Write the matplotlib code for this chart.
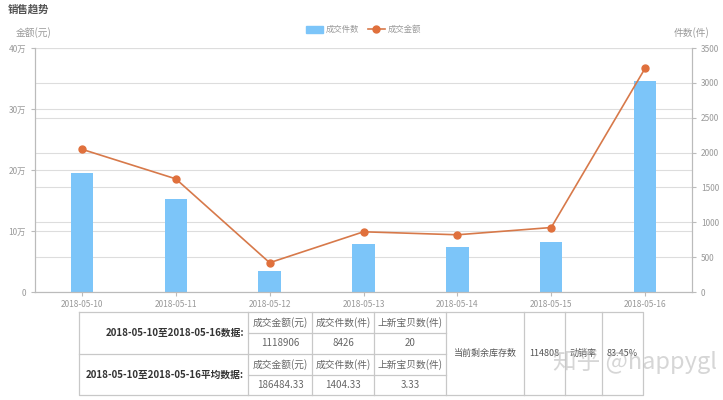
import matplotlib.pyplot as plt
from matplotlib.lines import Line2D
from matplotlib.patches import Patch

plt.rcParams['font.family'] = ['Noto Sans CJK SC', 'DejaVu Sans']

# chart data
dates = ['2018-05-10', '2018-05-11', '2018-05-12', '2018-05-13',
         '2018-05-14', '2018-05-15', '2018-05-16']
counts = [1700, 1328, 308, 694, 643, 722, 3031]            # 成交件数
amounts = [234000, 185500, 48000, 98700, 93800, 105700, 366700]  # 成交金额
left_ticks = [0, 100000, 200000, 300000, 400000]
left_labels = ['0', '10万', '20万', '30万', '40万']
right_ticks = [0, 500, 1000, 1500, 2000, 2500, 3000, 3500]

# table data
head = ['成交金额(元)', '成交件数(件)', '上新宝贝数(件)']
total_label = '2018-05-10至2018-05-16数据:'
total_vals = ['1118906', '8426', '20']
avg_label = '2018-05-10至2018-05-16平均数据:'
avg_vals = ['186484.33', '1404.33', '3.33']
extra = ['当前剩余库存数', '114808', '动销率', '83.45%']

bar_c = '#7cc5f9'
line_c = '#d7794a'
grid_c = '#dddddd'
txt_c = '#999999'

fig = plt.figure(figsize=(7.23, 4), dpi=100)
ax = fig.add_axes([35/723, 1-292/400, (692-35)/723, (292-48)/400])
ax2 = ax.twinx()

x = list(range(len(dates)))
ax2.bar(x, counts, width=0.24, color=bar_c, zorder=2)
ax.plot(x, amounts, color=line_c, lw=1.2, marker='o', ms=5,
        markerfacecolor='#e0703c', markeredgecolor='#e0703c', zorder=5)

ax.set_zorder(ax2.get_zorder() + 1)
ax.patch.set_visible(False)

ax.set_xlim(-0.5, len(dates) - 0.5)
ax.set_ylim(0, 400000)
ax2.set_ylim(0, 3500)
ax.set_yticks(left_ticks)
ax.set_yticklabels(left_labels)
ax2.set_yticks(right_ticks)
ax.set_xticks(x)
ax.set_xticklabels(dates)

# both sets of gridlines go behind the bars
ax2.grid(axis='y', color=grid_c, lw=0.8, zorder=0.5)
for v in left_ticks[1:]:
    ax2.axhline(v * 3500 / 400000, color=grid_c, lw=0.8, zorder=0.5)
ax2.set_axisbelow(True)

for a in (ax, ax2):
    for s in a.spines.values():
        s.set_color('#bbbbbb')
        s.set_linewidth(0.8)
    a.spines['top'].set_visible(False)
    a.tick_params(colors='#bbbbbb', labelcolor=txt_c, labelsize=6, length=3, width=0.8)
ax.tick_params(axis='x', pad=3)

# titles and axis names
fig.text(8/723, 1-10/400, '销售趋势', fontsize=7.5, fontweight='bold', color='#555555', va='center')
fig.text(34/723, 1-33/400, '金额(元)', fontsize=7, color=txt_c, ha='center', va='center')
fig.text(692/723, 1-33/400, '件数(件)', fontsize=7, color=txt_c, ha='center', va='center')

handles = [Patch(color=bar_c, label='成交件数'),
           Line2D([], [], color=line_c, marker='o', ms=5, markerfacecolor='#e0703c',
                  markeredgecolor='#e0703c', lw=1.2, label='成交金额')]
fig.legend(handles=handles, loc='center', bbox_to_anchor=(0.503, 1-29.5/400), ncol=2,
           frameon=False, fontsize=6, labelcolor=txt_c, handlelength=2.0,
           handleheight=0.9, columnspacing=1.0, handletextpad=0.4)

# table below the chart, drawn in pixel coordinates
tb = fig.add_axes([0, 0, 1, 1])
tb.set_xlim(0, 723)
tb.set_ylim(400, 0)
tb.axis('off')
tb.patch.set_visible(False)

line_kw = dict(color='#c8c8c8', lw=0.9)
xl, xc1, xc2, xc3, xr1 = 79, 248, 312, 374, 446
xe = [446, 524, 565, 602, 643]
yt, y1, y2, y3, yb = 312, 333, 354, 374.5, 395
tb.plot([xl, xe[-1], xe[-1], xl, xl], [yt, yt, yb, yb, yt], **line_kw)
tb.plot([xl, xr1], [y2, y2], **line_kw)
tb.plot([xc1, xr1], [y1, y1], **line_kw)
tb.plot([xc1, xr1], [y3, y3], **line_kw)
for xv in [xc1, xc2, xc3] + xe[:-1]:
    tb.plot([xv, xv], [yt, yb], **line_kw)

tb.text(xc1 - 4, (yt + y2) / 2, total_label, fontsize=7, fontweight='bold', color='#333333',
        ha='right', va='center')
tb.text(xc1 - 4, (y2 + yb) / 2, avg_label, fontsize=7, fontweight='bold', color='#333333',
        ha='right', va='center')
cols = [(xc1, xc2), (xc2, xc3), (xc3, xr1)]
for i, (a0, a1) in enumerate(cols):
    cx = (a0 + a1) / 2
    tb.text(cx, (yt + y1) / 2, head[i], fontsize=7, color='#666666', ha='center', va='center')
    tb.text(cx, (y1 + y2) / 2, total_vals[i], fontsize=7, color='#666666', ha='center', va='center')
    tb.text(cx, (y2 + y3) / 2, head[i], fontsize=7, color='#666666', ha='center', va='center')
    tb.text(cx, (y3 + yb) / 2, avg_vals[i], fontsize=7, color='#666666', ha='center', va='center')
for i, t in enumerate(extra):
    tb.text((xe[i] + xe[i + 1]) / 2, 353, t, fontsize=6.5, color='#555555', ha='center', va='center')

# watermark
tb.text(553, 361, '知乎 @happygl', fontsize=17, color='#bbbbbb', alpha=0.6, ha='left', va='center')

plt.savefig('out.png', dpi=100)
